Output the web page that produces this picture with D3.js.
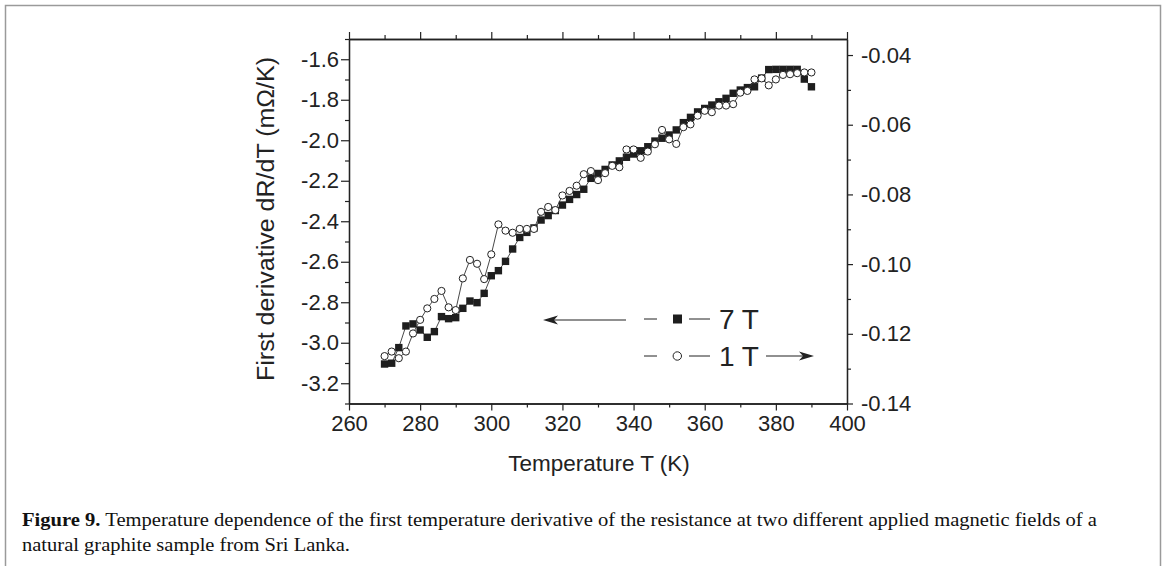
<!DOCTYPE html>
<html>
<head>
<meta charset="utf-8">
<script src="https://cdn.jsdelivr.net/npm/d3@7"></script>
<style>
  html, body { margin: 0; padding: 0; background: #fff; }
  svg { display: block; }
  .tick text { font-family: Arial, "Liberation Sans", sans-serif; }
</style>
</head>
<body>
<svg id="chart" width="1168" height="566"></svg>
<script>
// ---- Data ----
const temperatures = d3.range(270, 391, 2); // 270 … 390 K, step 2 K

// 7 T : first derivative dR/dT (mΩ/K), left axis
const dRdT_7T = [
  -3.105, -3.101, -3.024, -2.917, -2.907, -2.937, -2.973, -2.945, -2.871, -2.881,
  -2.876, -2.830, -2.794, -2.802, -2.756, -2.669, -2.644, -2.598, -2.537, -2.480,
  -2.455, -2.433, -2.394, -2.372, -2.347, -2.320, -2.292, -2.268, -2.242, -2.188,
  -2.164, -2.144, -2.122, -2.102, -2.084, -2.068, -2.052, -2.032, -2.004, -1.990,
  -1.974, -1.949, -1.913, -1.887, -1.860, -1.843, -1.826, -1.810, -1.793, -1.768,
  -1.752, -1.740, -1.736, -1.693, -1.651, -1.650, -1.650, -1.650, -1.650, -1.698,
  -1.736
];

// 1 T : first derivative dR/dT (mΩ/K), right axis
const dRdT_1T = [
  -0.1264, -0.1251, -0.1270, -0.1251, -0.1199, -0.1160, -0.1127, -0.1100, -0.1077, -0.1124,
  -0.1132, -0.1041, -0.0988, -0.0999, -0.1043, -0.0972, -0.0886, -0.0904, -0.0910, -0.0899,
  -0.0899, -0.0899, -0.0850, -0.0836, -0.0845, -0.0803, -0.0790, -0.0775, -0.0742, -0.0733,
  -0.0759, -0.0739, -0.0718, -0.0722, -0.0671, -0.0671, -0.0695, -0.0677, -0.0656, -0.0615,
  -0.0642, -0.0655, -0.0607, -0.0599, -0.0574, -0.0560, -0.0564, -0.0545, -0.0545, -0.0541,
  -0.0508, -0.0503, -0.0470, -0.0467, -0.0487, -0.0470, -0.0457, -0.0455, -0.0452, -0.0450,
  -0.0450
];

const xTicks = [260, 280, 300, 320, 340, 360, 380, 400];
const xMinorTicks = [270, 290, 310, 330, 350, 370, 390];
const yLeftTicks = [-3.2, -3.0, -2.8, -2.6, -2.4, -2.2, -2.0, -1.8, -1.6];
const yLeftMinorTicks = [-3.3, -3.1, -2.9, -2.7, -2.5, -2.3, -2.1, -1.9, -1.7, -1.5];
const yRightTicks = [-0.14, -0.12, -0.10, -0.08, -0.06, -0.04];
const yRightMinorTicks = [-0.13, -0.11, -0.09, -0.07, -0.05];

const xLabel = "Temperature T (K)";
const yLabel = "First derivative dR/dT (mΩ/K)";
const legendLabels = ["7 T", "1 T"];
const captionBold = "Figure 9.";
const captionLine1 = " Temperature dependence of the first temperature derivative of the resistance at two different applied magnetic fields of a";
const captionLine2 = "natural graphite sample from Sri Lanka.";

// ---- Layout ----
const svg = d3.select("#chart");
const L = 349, R = 847, T = 39, B = 403.5;
const FONT = "Arial, 'Liberation Sans', sans-serif";

const x = d3.scaleLinear().domain([260, 400]).range([L, R]);
const yL = d3.scaleLinear().domain([-3.3, -1.5]).range([B, T]);
const yR = d3.scaleLinear().domain([-0.14, -0.0354]).range([B, T]);

// figure border
svg.append("path")
  .attr("d", `M5.5,566 L5.5,5.5 L1160.5,5.5 L1160.5,566`)
  .attr("fill", "none").attr("stroke", "#9a9a9a").attr("stroke-width", 1.5);

const fmt1 = d3.format(".1f");
const fmt2 = d3.format(".2f");
const minusFmt = f => v => f(v).replace("−", "-");

function styleAxis(g) {
  g.selectAll(".domain").attr("stroke", "#222").attr("stroke-width", 1.3);
  g.selectAll(".tick line").attr("stroke", "#222").attr("stroke-width", 1.2);
  g.selectAll(".tick text").attr("fill", "#222").attr("font-size", 22).attr("font-family", FONT);
}

// bottom axis
const gx = svg.append("g").attr("transform", `translate(0,${B})`)
  .call(d3.axisBottom(x).tickValues(xTicks).tickSize(7).tickSizeOuter(0).tickPadding(5).tickFormat(d3.format("d")));
styleAxis(gx);
const gxm = svg.append("g").attr("transform", `translate(0,${B})`)
  .call(d3.axisBottom(x).tickValues(xMinorTicks).tickSize(4).tickSizeOuter(0).tickFormat(""));
styleAxis(gxm);

// top axis
const gt = svg.append("g").attr("transform", `translate(0,${T})`)
  .call(d3.axisTop(x).tickValues(xTicks).tickSize(7).tickSizeOuter(0).tickFormat(""));
styleAxis(gt);
const gtm = svg.append("g").attr("transform", `translate(0,${T})`)
  .call(d3.axisTop(x).tickValues(xMinorTicks).tickSize(4).tickSizeOuter(0).tickFormat(""));
styleAxis(gtm);

// left axis
const gl = svg.append("g").attr("transform", `translate(${L},0)`)
  .call(d3.axisLeft(yL).tickValues(yLeftTicks).tickSize(8).tickSizeOuter(0).tickPadding(2).tickFormat(minusFmt(fmt1)));
styleAxis(gl);
const glm = svg.append("g").attr("transform", `translate(${L},0)`)
  .call(d3.axisLeft(yL).tickValues(yLeftMinorTicks).tickSize(4).tickSizeOuter(0).tickFormat(""));
styleAxis(glm);

// right axis
const gr = svg.append("g").attr("transform", `translate(${R},0)`)
  .call(d3.axisRight(yR).tickValues(yRightTicks).tickSize(6).tickSizeOuter(0).tickPadding(8).tickFormat(minusFmt(fmt2)));
styleAxis(gr);
const grm = svg.append("g").attr("transform", `translate(${R},0)`)
  .call(d3.axisRight(yR).tickValues(yRightMinorTicks).tickSize(4).tickSizeOuter(0).tickFormat(""));
styleAxis(grm);

// axis titles
svg.append("text")
  .attr("x", 599).attr("y", 471)
  .attr("text-anchor", "middle").attr("font-family", FONT).attr("font-size", 22.5).attr("fill", "#222")
  .text(xLabel);
svg.append("text")
  .attr("transform", `translate(274,219) rotate(-90)`)
  .attr("text-anchor", "middle").attr("font-family", FONT).attr("font-size", 23.5).attr("fill", "#222")
  .attr("textLength", 324).attr("lengthAdjust", "spacingAndGlyphs")
  .text(yLabel);

// ---- Data series ----
const d7 = temperatures.map((t, i) => ({ t, v: dRdT_7T[i] }));
const d1 = temperatures.map((t, i) => ({ t, v: dRdT_1T[i] }));

const line7 = d3.line().x(d => x(d.t)).y(d => yL(d.v));
const line1 = d3.line().x(d => x(d.t)).y(d => yR(d.v));

svg.append("path").datum(d7).attr("d", line7)
  .attr("fill", "none").attr("stroke", "#333").attr("stroke-width", 0.9);
svg.append("g").selectAll("rect").data(d7).join("rect")
  .attr("x", d => x(d.t) - 3.7).attr("y", d => yL(d.v) - 3.7)
  .attr("width", 7.4).attr("height", 7.4).attr("fill", "#1e1e1e");

svg.append("path").datum(d1).attr("d", line1)
  .attr("fill", "none").attr("stroke", "#333").attr("stroke-width", 0.9);
svg.append("g").selectAll("circle").data(d1).join("circle")
  .attr("cx", d => x(d.t)).attr("cy", d => yR(d.v)).attr("r", 3.6)
  .attr("fill", "#fff").attr("stroke", "#222").attr("stroke-width", 1);

// ---- Legend ----
const lg = svg.append("g");
const row7 = 319, row1 = 356;
// 7 T row
lg.append("line").attr("x1", 644).attr("x2", 657).attr("y1", row7).attr("y2", row7).attr("stroke", "#222").attr("stroke-width", 1);
lg.append("line").attr("x1", 689).attr("x2", 710).attr("y1", row7).attr("y2", row7).attr("stroke", "#222").attr("stroke-width", 1);
lg.append("rect").attr("x", 673).attr("y", row7 - 4.5).attr("width", 9).attr("height", 9).attr("fill", "#1e1e1e");
lg.append("text").attr("x", 719).attr("y", row7 + 10).attr("font-family", FONT).attr("font-size", 28).attr("fill", "#222").text(legendLabels[0]);
// 1 T row
lg.append("line").attr("x1", 644).attr("x2", 657).attr("y1", row1).attr("y2", row1).attr("stroke", "#222").attr("stroke-width", 1);
lg.append("line").attr("x1", 689).attr("x2", 710).attr("y1", row1).attr("y2", row1).attr("stroke", "#222").attr("stroke-width", 1);
lg.append("circle").attr("cx", 677.3).attr("cy", row1).attr("r", 4.2).attr("fill", "#fff").attr("stroke", "#222").attr("stroke-width", 1);
lg.append("text").attr("x", 719).attr("y", row1 + 10).attr("font-family", FONT).attr("font-size", 28).attr("fill", "#222").text(legendLabels[1]);

// arrows
function arrow(x1, x2, y) {
  const dir = Math.sign(x2 - x1);
  lg.append("line").attr("x1", x1).attr("x2", x2 - dir * 8).attr("y1", y).attr("y2", y).attr("stroke", "#222").attr("stroke-width", 1.1);
  lg.append("path")
    .attr("d", `M${x2},${y} L${x2 - dir * 15},${y - 4.5} L${x2 - dir * 11},${y} L${x2 - dir * 15},${y + 4.5} Z`)
    .attr("fill", "#222");
}
arrow(626, 543, 320);
arrow(766, 814, 356);

// ---- Caption ----
const cap1 = svg.append("text").attr("x", 22).attr("y", 526)
  .attr("font-family", "'Liberation Serif', 'DejaVu Serif', serif").attr("font-size", 19).attr("fill", "#111")
  .attr("textLength", 1075).attr("lengthAdjust", "spacingAndGlyphs");
cap1.append("tspan").attr("font-weight", "bold").text(captionBold);
cap1.append("tspan").text(captionLine1);
svg.append("text").attr("x", 22).attr("y", 551)
  .attr("font-family", "'Liberation Serif', 'DejaVu Serif', serif").attr("font-size", 19).attr("fill", "#111")
  .attr("textLength", 328).attr("lengthAdjust", "spacingAndGlyphs")
  .text(captionLine2);
</script>
</body>
</html>
